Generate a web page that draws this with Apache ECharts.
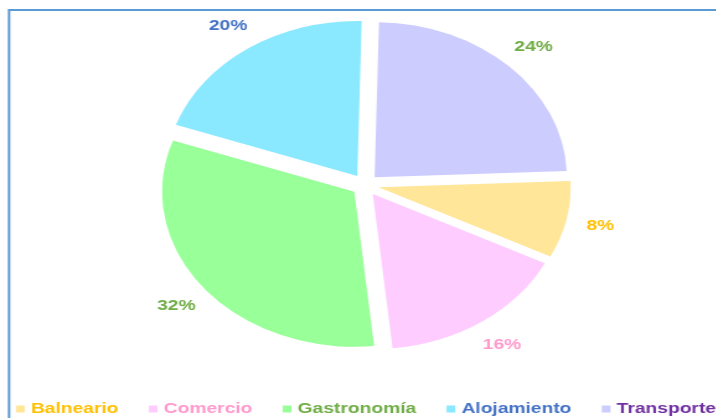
<!DOCTYPE html>
<html>
<head>
<meta charset="utf-8">
<script src="https://cdn.jsdelivr.net/npm/echarts@6/dist/echarts.min.js"></script>
<style>
  html, body { margin: 0; padding: 0; background: #ffffff; overflow: hidden; width: 716px; height: 418px; }
  #chart { width: 620px; height: 418px; transform: scaleX(1.24); transform-origin: 0 0; }
</style>
</head>
<body>
<div id="chart"></div>
<script>
// ---- data ----
const categories = ['Balneario', 'Comercio', 'Gastronomía', 'Alojamiento', 'Transporte'];
const values = [8, 16, 32, 20, 24];

// ---- styles ----
const sliceColors = ['#ffe699', '#ffccff', '#99ff99', '#8ae9ff', '#ccccff'];
const labelColors = ['#ffc000', '#ff99cc', '#70ad47', '#4472c4', '#70ad47'];
const legendColors = ['#ffc000', '#ff99cc', '#70ad47', '#4472c4', '#7030a0'];
const FONT = '"Liberation Sans", Arial, sans-serif';

const chart = echarts.init(document.getElementById('chart'), null, { renderer: 'canvas' });

const center = [294.4, 185];
const startAngle = 2.3;

const option = {
  backgroundColor: '#ffffff',
  animation: false,
  graphic: [{
    type: 'rect',
    shape: { x: 7.3, y: 10, width: 1000, height: 1000 },
    style: { fill: 'none', stroke: '#5b9bd5', lineWidth: 2 },
    silent: true
  }],
  legend: {
    left: 12.9,
    top: 401,
    padding: 0,
    icon: 'rect',
    itemWidth: 7,
    itemHeight: 7,
    itemGap: 24.5,
    width: 1000,
    selectedMode: false,
    textStyle: { fontFamily: FONT, fontSize: 15.5, fontWeight: 'bold' },
    data: categories.map((n, i) => ({ name: n, textStyle: { color: legendColors[i] } }))
  },
  series: [
    {
      type: 'pie',
      center: center,
      radius: 155,
      startAngle: startAngle,
      clockwise: true,
      selectedMode: 'multiple',
      selectedOffset: 11,
      label: { show: false },
      labelLine: { show: false },
      emphasis: { disabled: true },
      select: { itemStyle: { borderWidth: 0 } },
      data: categories.map((n, i) => ({
        name: n, value: values[i], selected: true,
        itemStyle: { color: sliceColors[i] }
      }))
    },
    {
      type: 'pie',
      center: center,
      radius: [181, 201],
      startAngle: startAngle,
      clockwise: true,
      silent: true,
      legendHoverLink: false,
      emphasis: { disabled: true },
      itemStyle: { color: 'rgba(0,0,0,0)' },
      labelLine: { show: false },
      label: {
        show: true,
        position: 'inside',
        formatter: '{c}%',
        fontFamily: FONT,
        fontSize: 15.5,
        fontWeight: 'bold'
      },
      data: categories.map((n, i) => ({
        name: n, value: values[i],
        label: { color: labelColors[i] }
      }))
    }
  ]
};

chart.setOption(option);
</script>
</body>
</html>
